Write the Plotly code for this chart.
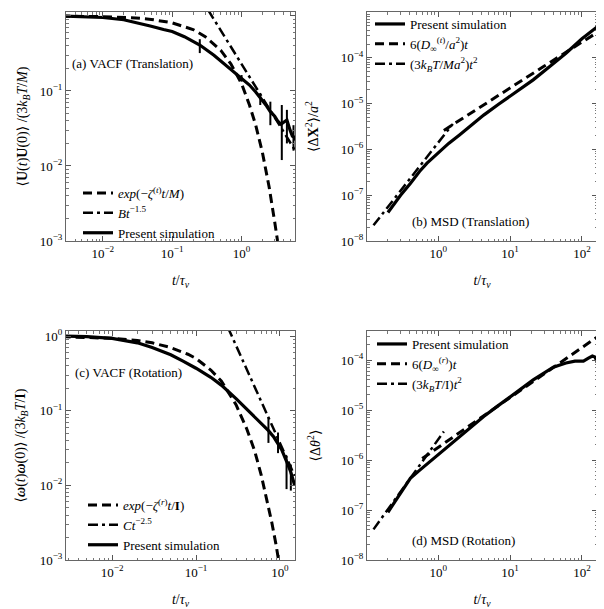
import plotly.graph_objects as go

# ---------------- Data ----------------
# (a) VACF translation
t_sim_a = [0.0025, 0.005, 0.01, 0.02, 0.035, 0.05, 0.075, 0.1, 0.15, 0.25, 0.4, 0.6, 0.8, 1.0,
           1.3, 1.6, 1.9, 2.3, 2.6, 3.0, 3.3, 3.7, 4.0, 4.5, 5.0, 5.4, 5.8, 6.0]
v_sim_a = [1.0, 0.985, 0.955, 0.89, 0.80, 0.73, 0.66, 0.62, 0.53, 0.41, 0.30, 0.22, 0.175, 0.145,
           0.12, 0.097, 0.08, 0.063, 0.053, 0.046, 0.040, 0.036, 0.038, 0.041, 0.030, 0.025, 0.024, 0.022]
t_exp_a = [0.0025, 0.01, 0.03, 0.05, 0.1, 0.2, 0.3, 0.5, 0.7, 1.0, 1.3, 1.6, 2.0, 2.5, 3.0, 3.3]
v_exp_a = [0.995, 0.98, 0.94, 0.90, 0.81, 0.66, 0.53, 0.35, 0.23, 0.125, 0.065, 0.035, 0.015, 0.0052, 0.0018, 0.001]
t_pow_a = [0.33, 0.5, 1.0, 2.0, 4.0, 6.0]
v_pow_a = [1.2, 0.65, 0.23, 0.081, 0.029, 0.0157]
t_err_a = [0.25, 1.0, 1.86, 2.6, 3.8, 4.5, 5.6]
c_err_a = [0.41, 0.145, 0.08, 0.052, 0.037, 0.040, 0.025]
lo_err_a = [0.32, 0.133, 0.065, 0.035, 0.012, 0.020, 0.016]
hi_err_a = [0.49, 0.163, 0.093, 0.072, 0.065, 0.056, 0.035]

# (b) MSD translation
t_sim_b = [0.2, 0.3, 0.41, 0.55, 0.7, 1.0, 1.4, 2.0, 3.0, 4.3, 7.0, 12, 21, 35, 60, 100, 165]
v_sim_b = [4.2e-8, 1.0e-7, 1.8e-7, 3.3e-7, 5.0e-7, 8.4e-7, 1.35e-6, 2.1e-6, 3.6e-6, 5.6e-6,
           9.8e-6, 1.8e-5, 3.3e-5, 6.3e-5, 1.26e-4, 2.6e-4, 4.8e-4]
t_lin_b = [1.2, 3, 10, 30, 100, 165]
v_lin_b = [2.6e-6, 6.6e-6, 2.2e-5, 6.6e-5, 2.2e-4, 3.6e-4]
t_quad_b = [0.126, 0.3, 0.6, 1.0, 1.6]
v_quad_b = [2.2e-8, 1.26e-7, 5.0e-7, 1.4e-6, 3.6e-6]

# (c) VACF rotation
t_sim_c = [0.0025, 0.005, 0.01, 0.02, 0.03, 0.05, 0.07, 0.1, 0.15, 0.2, 0.3, 0.44, 0.6, 0.73,
           0.85, 0.95, 1.05, 1.2, 1.35, 1.5]
v_sim_c = [1.0, 0.98, 0.93, 0.81, 0.70, 0.56, 0.46, 0.37, 0.28, 0.22, 0.145, 0.094, 0.068, 0.054,
           0.044, 0.036, 0.030, 0.021, 0.015, 0.010]
t_exp_c = [0.0025, 0.01, 0.02, 0.03, 0.05, 0.08, 0.1, 0.15, 0.2, 0.3, 0.4, 0.5, 0.6, 0.7, 0.8, 0.9, 0.97]
v_exp_c = [0.98, 0.93, 0.87, 0.81, 0.70, 0.57, 0.50, 0.35, 0.25, 0.12, 0.058, 0.029, 0.0136,
           0.0066, 0.0032, 0.0016, 0.00095]
t_pow_c = [0.24, 0.3, 0.4, 0.5, 0.7, 1.0, 1.5]
v_pow_c = [1.3, 0.75, 0.37, 0.21, 0.091, 0.037, 0.0134]
t_err_c = [0.73, 0.95, 1.2, 1.35]
c_err_c = [0.054, 0.036, 0.021, 0.015]
lo_err_c = [0.037, 0.027, 0.0089, 0.0085]
hi_err_c = [0.081, 0.051, 0.025, 0.019]

# (d) MSD rotation
t_sim_d = [0.2, 0.3, 0.41, 0.55, 0.82, 1.2, 1.9, 3.0, 4.3, 7.0, 12, 21, 40, 60, 80, 105, 125, 140, 152, 165]
v_sim_d = [9.0e-8, 2.2e-7, 4.3e-7, 6.2e-7, 1.0e-6, 1.6e-6, 2.7e-6, 4.8e-6, 7.4e-6, 1.25e-5,
           2.2e-5, 4.0e-5, 7.2e-5, 8.7e-5, 9.5e-5, 9.5e-5, 1.1e-4, 1.2e-4, 1.15e-4, 9.0e-5]
t_lin_d = [0.6, 1, 3, 10, 30, 100, 170]
v_lin_d = [1.07e-6, 1.78e-6, 5.3e-6, 1.78e-5, 5.3e-5, 1.78e-4, 3.0e-4]
t_quad_d = [0.126, 0.3, 0.6, 1.0, 1.2]
v_quad_d = [4.1e-8, 2.3e-7, 9.4e-7, 2.6e-6, 3.7e-6]

# tick labels
tv_vacf_x = [0.01, 0.1, 1]
tt_vacf_x = ["10<sup>−2</sup>", "10<sup>−1</sup>", "10<sup>0</sup>"]
tv_vacf_y = [0.001, 0.01, 0.1, 1]
tt_vacf_y = ["10<sup>−3</sup>", "10<sup>−2</sup>", "10<sup>−1</sup>", "10<sup>0</sup>"]
tv_msd_x = [0.1, 1, 10, 100]
tt_msd_x = ["10<sup>−1</sup>", "10<sup>0</sup>", "10<sup>1</sup>", "10<sup>2</sup>"]
tv_msd_b_y = [1e-8, 1e-7, 1e-6, 1e-5, 1e-4, 1e-3]
tt_msd_b_y = ["10<sup>−8</sup>", "10<sup>−7</sup>", "10<sup>−6</sup>", "10<sup>−5</sup>", "10<sup>−4</sup>", "10<sup>−3</sup>"]
tv_msd_d_y = [1e-8, 1e-7, 1e-6, 1e-5, 1e-4]
tt_msd_d_y = ["10<sup>−8</sup>", "10<sup>−7</sup>", "10<sup>−6</sup>", "10<sup>−5</sup>", "10<sup>−4</sup>"]

# ---------------- Figure ----------------
FONT = "Liberation Serif, DejaVu Serif, serif"
OX, OY = 8, 8              # page (body) margin of the html page
W, H = 604 - OX, 609 - OY  # figure size so that it exactly fills the window
DASH = "9px,5px"
DASHDOT = "10px,4px,3px,4px"

def fx(px):
    return (px - OX) / W

def fy(py):
    return 1 - (py - OY) / H

fig = go.Figure()

def line(x, y, xa, ya, name, dash, width, legend, show=True):
    fig.add_trace(go.Scatter(x=x, y=y, mode="lines", name=name, xaxis=xa, yaxis=ya,
                             line=dict(color="black", width=width, dash=dash),
                             legend=legend, showlegend=show))

def errbars(x, c, lo, hi, xa, ya):
    fig.add_trace(go.Scatter(x=x, y=c, mode="markers", xaxis=xa, yaxis=ya, showlegend=False,
                             marker=dict(size=1, color="black"),
                             error_y=dict(type="data", symmetric=False,
                                          array=[h - v for h, v in zip(hi, c)],
                                          arrayminus=[v - l for l, v in zip(lo, c)],
                                          width=0, thickness=2, color="black")))

# (a)
line(t_exp_a, v_exp_a, "x", "y", "<i>exp</i>(−<i>ζ</i><sup>(<i>t</i>)</sup><i>t</i>/<i>M</i>)", DASH, 3, "legend")
line(t_pow_a, v_pow_a, "x", "y", "<i>Bt</i><sup>−1.5</sup>", DASHDOT, 2.5, "legend")
line(t_sim_a, v_sim_a, "x", "y", "Present simulation", "solid", 3.2, "legend")
errbars(t_err_a, c_err_a, lo_err_a, hi_err_a, "x", "y")

# (b)
line(t_sim_b, v_sim_b, "x2", "y2", "Present simulation", "solid", 3.2, "legend2")
line(t_lin_b, v_lin_b, "x2", "y2", "6(<i>D</i><sub>∞</sub><sup>(<i>t</i>)</sup>/<i>a</i><sup>2</sup>)<i>t</i>", DASH, 3, "legend2")
line(t_quad_b, v_quad_b, "x2", "y2", "(3<i>k</i><sub><i>B</i></sub><i>T</i>/<i>Ma</i><sup>2</sup>)<i>t</i><sup>2</sup>", DASHDOT, 2.5, "legend2")

# (c)
line(t_exp_c, v_exp_c, "x3", "y3", "<i>exp</i>(−<i>ζ</i><sup>(<i>r</i>)</sup><i>t</i>/<b>I</b>)", DASH, 3, "legend3")
line(t_pow_c, v_pow_c, "x3", "y3", "<i>Ct</i><sup>−2.5</sup>", DASHDOT, 2.5, "legend3")
line(t_sim_c, v_sim_c, "x3", "y3", "Present simulation", "solid", 3.2, "legend3")
errbars(t_err_c, c_err_c, lo_err_c, hi_err_c, "x3", "y3")

# (d)
line(t_sim_d, v_sim_d, "x4", "y4", "Present simulation", "solid", 3.2, "legend4")
line(t_lin_d, v_lin_d, "x4", "y4", "6(<i>D</i><sub>∞</sub><sup>(<i>r</i>)</sup>)<i>t</i>", DASH, 3, "legend4")
line(t_quad_d, v_quad_d, "x4", "y4", "(3<i>k</i><sub><i>B</i></sub><i>T</i>/I)<i>t</i><sup>2</sup>", DASHDOT, 2.5, "legend4")

def minor_vals(lo, hi):
    vals = []
    for e in range(lo, hi):
        for k in range(2, 10):
            vals.append(k * 10 ** e)
    return vals

def base_axis(domain, rng, tv, tt, anchor, mlo, mhi, title, standoff):
    return dict(type="log", domain=domain, range=rng, anchor=anchor, automargin=False,
                tickmode="array", tickvals=tv, ticktext=tt, ticks="inside", ticklen=5,
                tickcolor="#555", showline=True, linecolor="#666", linewidth=1, mirror="ticks",
                showgrid=False, zeroline=False, tickfont=dict(family=FONT, size=13, color="black"),
                minor=dict(tickvals=minor_vals(mlo, mhi), ticks="inside", ticklen=2.5, tickcolor="#777",
                           showgrid=False),
                title=dict(text=title, font=dict(family=FONT, size=14, color="black"), standoff=standoff))

XT = "<i>t</i>/<i>τ</i><sub><i>ν</i></sub>"

xl = [fx(66), fx(295)]
xr = [fx(367), fx(597)]
yt = [fy(241), fy(12)]
yb = [fy(560), fy(331)]

def legend(xpx, ypx):
    return dict(x=fx(xpx), y=fy(ypx), xanchor="left", yanchor="top", bgcolor="rgba(0,0,0,0)",
                font=dict(family=FONT, size=13, color="black"), tracegroupgap=0, itemwidth=30)

fig.update_layout(
    template="none",
    width=W, height=H, margin=dict(l=0, r=0, t=0, b=0, pad=0, autoexpand=False),
    paper_bgcolor="white", plot_bgcolor="white",
    font=dict(family=FONT, size=13, color="black"),
    xaxis=base_axis(xl, [-2.53, 0.77], tv_vacf_x, tt_vacf_x, "y", -3, 1, XT, 15),
    yaxis=base_axis(yt, [-3, 0.053], tv_vacf_y, tt_vacf_y, "x", -3, 1,
                    "⟨<b>U</b>(<i>t</i>)<b>U</b>(0)⟩ /(3<i>k</i><sub><i>B</i></sub><i>T</i>/<i>M</i>)", 8),
    xaxis2=base_axis(xr, [-0.99, 2.21], tv_msd_x, tt_msd_x, "y2", -1, 3, XT, 15),
    yaxis2=base_axis(yt, [-8, -3], tv_msd_b_y, tt_msd_b_y, "x2", -8, -3,
                     "⟨Δ<b>X</b><sup>2</sup>⟩/<i>a</i><sup>2</sup>", 18),
    xaxis3=base_axis(xl, [-2.55, 0.18], tv_vacf_x, tt_vacf_x, "y3", -3, 1, XT, 15),
    yaxis3=base_axis(yb, [-3, 0.067], tv_vacf_y, tt_vacf_y, "x3", -3, 1,
                     "⟨<b><i>ω</i></b>(<i>t</i>)<b><i>ω</i></b>(0)⟩ /(3<i>k</i><sub><i>B</i></sub><i>T</i>/<b>I</b>)", 10),
    xaxis4=base_axis(xr, [-0.99, 2.21], tv_msd_x, tt_msd_x, "y4", -1, 3, XT, 15),
    yaxis4=base_axis(yb, [-8, -3.42], tv_msd_d_y, tt_msd_d_y, "x4", -8, -3, "⟨Δ<i>θ</i><sup>2</sup>⟩", 16),
    legend=legend(78, 178),
    legend2=legend(370, 9),
    legend3=legend(83, 490),
    legend4=legend(372, 329),
)

ann = [
    ("x domain", "y domain", 0.017, 0.777, "left", "(a) VACF (Translation)"),
    ("x2 domain", "y2 domain", 0.448, 0.083, "center", "(b) MSD (Translation)"),
    ("x3 domain", "y3 domain", 0.03, 0.817, "left", "(c) VACF (Rotation)"),
    ("x4 domain", "y4 domain", 0.42, 0.083, "center", "(d) MSD (Rotation)"),
]
for xr_, yr_, x, y, xa, txt in ann:
    fig.add_annotation(xref=xr_, yref=yr_, x=x, y=y, xanchor=xa, yanchor="middle", text=txt,
                       showarrow=False, font=dict(family=FONT, size=13, color="black"))

fig.write_html("out.html")
